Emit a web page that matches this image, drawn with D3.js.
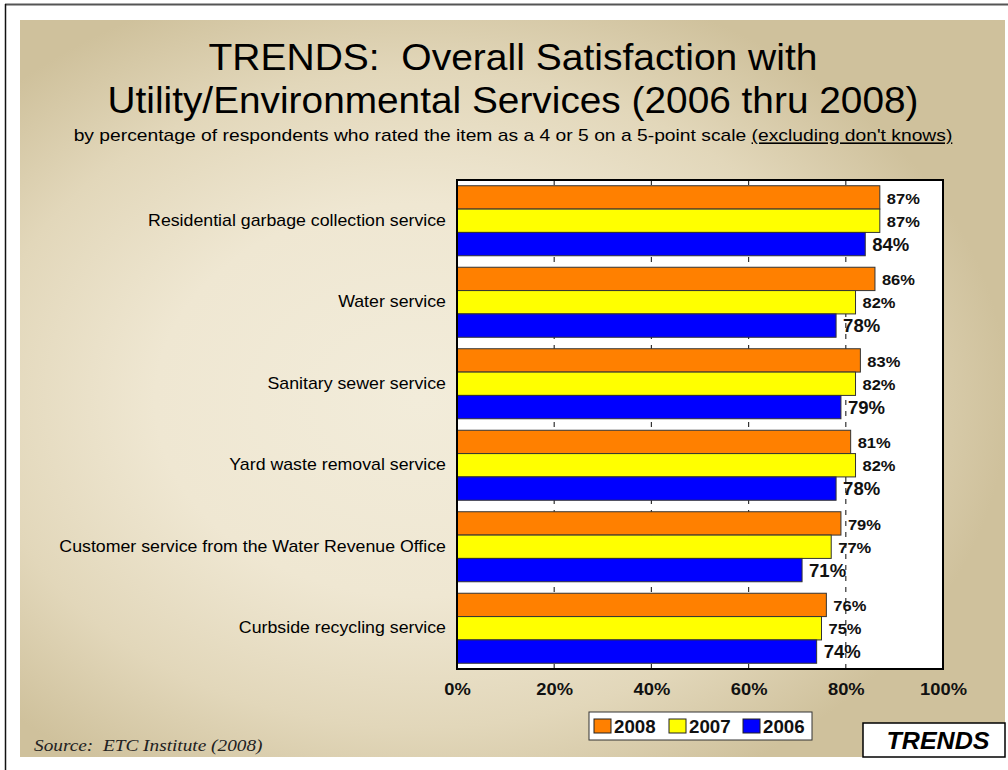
<!DOCTYPE html>
<html>
<head>
<meta charset="utf-8">
<script src="https://cdn.jsdelivr.net/npm/d3@7"></script>
<style>
  html, body { margin: 0; padding: 0; background: #ffffff; }
  svg { display: block; }
  text { white-space: pre; }
</style>
</head>
<body>
<svg id="chart" width="1008" height="770"></svg>
<script>
// Services rated, top to bottom
const categories = [
  "Residential garbage collection service",
  "Water service",
  "Sanitary sewer service",
  "Yard waste removal service",
  "Customer service from the Water Revenue Office",
  "Curbside recycling service"
];
// Survey years, in the order the bars are stacked inside each group
const years = ["2008", "2007", "2006"];
// Percent satisfied per year
const values2008 = [87, 86, 83, 81, 79, 76];
const values2007 = [87, 82, 82, 82, 77, 75];
const values2006 = [84, 78, 79, 78, 71, 74];
const tickValues = [0, 20, 40, 60, 80, 100];
const tickLabels = ["0%", "20%", "40%", "60%", "80%", "100%"];
const gridValues = [20, 40, 60, 80];

const seriesByYear = { "2008": values2008, "2007": values2007, "2006": values2006 };
const colors = { "2008": "#FF8000", "2007": "#FFFF00", "2006": "#0000FF" };
const labelSize = { "2008": 15, "2007": 15, "2006": 17.5 };
const labelWiden = { "2008": 1.1, "2007": 1.1, "2006": 1.06 };

const sans = "'Liberation Sans', Arial, sans-serif";
const serif = "'Liberation Serif', 'Times New Roman', serif";

// Slide type is set slightly wide: stretch text horizontally about its anchor point
function widen(sel, sx) {
  sel.each(function (d, i) {
    const t = d3.select(this);
    const k = typeof sx === "function" ? sx(d, i) : sx;
    const ax = +t.attr("x") || 0, ay = +t.attr("y") || 0;
    t.attr("transform", `translate(${ax},${ay}) scale(${k},1) translate(${-ax},${-ay})`);
  });
}

const svg = d3.select("#chart");
const defs = svg.append("defs");

// Tan backdrop, lighter toward the middle
const grad = defs.append("radialGradient")
  .attr("id", "bg")
  .attr("gradientUnits", "userSpaceOnUse")
  .attr("cx", 420).attr("cy", 400).attr("r", 560)
  .attr("gradientTransform", "translate(420,400) scale(1.05,0.78) translate(-420,-400)");
grad.append("stop").attr("offset", "0%").attr("stop-color", "#f2ecda");
grad.append("stop").attr("offset", "45%").attr("stop-color", "#efe7d2");
grad.append("stop").attr("offset", "75%").attr("stop-color", "#e2d7ba");
grad.append("stop").attr("offset", "100%").attr("stop-color", "#cfc19c");

// Frame lines
svg.append("line").attr("x1", 5).attr("x2", 1008).attr("y1", 4.5).attr("y2", 4.5)
  .attr("stroke", "#555").attr("stroke-width", 2);
svg.append("line").attr("x1", 5.5).attr("x2", 5.5).attr("y1", 4).attr("y2", 770)
  .attr("stroke", "#111").attr("stroke-width", 1.5);

svg.append("rect").attr("x", 20).attr("y", 20).attr("width", 985).attr("height", 737)
  .attr("fill", "url(#bg)");

// Titles
svg.append("text").attr("x", 513).attr("y", 70).attr("text-anchor", "middle")
  .attr("font-family", sans).attr("font-size", 37.5).attr("fill", "#000")
  .text("TRENDS:  Overall Satisfaction with")
  .call(widen, 1.04);
svg.append("text").attr("x", 513).attr("y", 113).attr("text-anchor", "middle")
  .attr("font-family", sans).attr("font-size", 37.5).attr("fill", "#000")
  .text("Utility/Environmental Services (2006 thru 2008)")
  .call(widen, 1.035);

const sub = svg.append("text").attr("x", 513).attr("y", 141.5).attr("text-anchor", "middle")
  .attr("font-family", sans).attr("font-size", 16).attr("fill", "#000");
sub.append("tspan").text("by percentage of respondents who rated the item as a 4 or 5 on a 5-point scale ");
sub.append("tspan").attr("text-decoration", "underline").text("(excluding don't knows)");
sub.call(widen, 1.205);

// Plot area
const plot = { left: 457, right: 943, top: 180, bottom: 669 };

const x = d3.scaleLinear().domain([0, 100]).range([plot.left, plot.right]);
const y = d3.scaleBand().domain(categories).range([plot.top, plot.bottom])
  .paddingInner(0.141).paddingOuter(0.0705);
const yInner = d3.scaleBand().domain(years).range([0, y.bandwidth()]);

svg.append("rect").attr("x", plot.left).attr("y", plot.top)
  .attr("width", plot.right - plot.left).attr("height", plot.bottom - plot.top)
  .attr("fill", "#ffffff");

// Dashed vertical gridlines
svg.append("g").selectAll("line").data(gridValues).join("line")
  .attr("x1", d => x(d)).attr("x2", d => x(d))
  .attr("y1", plot.top).attr("y2", plot.bottom)
  .attr("stroke", "#333").attr("stroke-width", 1.2)
  .attr("stroke-dasharray", "5,6");

// Bars
const groups = svg.append("g").selectAll("g").data(categories).join("g")
  .attr("transform", d => `translate(0,${y(d)})`);

groups.selectAll("rect").data((c, i) => years.map(yr => ({ yr, v: seriesByYear[yr][i] })))
  .join("rect")
  .attr("x", x(0))
  .attr("y", d => yInner(d.yr))
  .attr("width", d => x(d.v) - x(0))
  .attr("height", yInner.bandwidth())
  .attr("fill", d => colors[d.yr])
  .attr("stroke", "#333").attr("stroke-width", 1);

// Value labels
groups.selectAll("text").data((c, i) => years.map(yr => ({ yr, v: seriesByYear[yr][i] })))
  .join("text")
  .attr("x", d => x(d.v) + 7)
  .attr("y", d => yInner(d.yr) + yInner.bandwidth() / 2 + 1)
  .attr("dominant-baseline", "central")
  .attr("font-family", sans).attr("font-weight", "bold")
  .attr("font-size", d => labelSize[d.yr]).attr("fill", "#111")
  .text(d => d.v + "%")
  .call(widen, d => labelWiden[d.yr]);

// Plot border
svg.append("rect").attr("x", plot.left).attr("y", plot.top)
  .attr("width", plot.right - plot.left).attr("height", plot.bottom - plot.top)
  .attr("fill", "none").attr("stroke", "#000").attr("stroke-width", 2);

// Category labels
svg.append("g").selectAll("text").data(categories).join("text")
  .attr("x", plot.left - 11)
  .attr("y", d => y(d) + yInner("2007") + yInner.bandwidth() / 2)
  .attr("dominant-baseline", "central").attr("text-anchor", "end")
  .attr("font-family", sans).attr("font-size", 16).attr("fill", "#000")
  .text(d => d)
  .call(widen, 1.11);

// Value axis labels
const xAxis = d3.axisBottom(x).tickValues(tickValues)
  .tickFormat((d, i) => tickLabels[i]).tickSize(0).tickPadding(14);
const axisG = svg.append("g").attr("transform", `translate(0,${plot.bottom})`).call(xAxis);
axisG.select(".domain").remove();
axisG.selectAll("text").attr("font-family", sans).attr("font-weight", "bold")
  .attr("font-size", 17).attr("fill", "#111")
  .call(widen, 1.08);

// Legend
const legend = svg.append("g");
legend.append("rect").attr("x", 589).attr("y", 712).attr("width", 223).attr("height", 28)
  .attr("fill", "#fff").attr("stroke", "#333").attr("stroke-width", 1);
const legendX = { "2008": 594, "2007": 669, "2006": 743 };
years.forEach(yr => {
  legend.append("rect").attr("x", legendX[yr]).attr("y", 719).attr("width", 17).attr("height", 14)
    .attr("fill", colors[yr]).attr("stroke", "#222").attr("stroke-width", 1);
  legend.append("text").attr("x", legendX[yr] + 20).attr("y", 733)
    .attr("font-family", sans).attr("font-weight", "bold").attr("font-size", 17.5)
    .attr("fill", "#111").text(yr)
    .call(widen, 1.07);
});

// Source note
svg.append("text").attr("x", 34).attr("y", 751)
  .attr("font-family", serif)
  .attr("font-style", "italic").attr("font-size", 17).attr("fill", "#222")
  .text("Source:  ETC Institute (2008)")
  .call(widen, 1.135);

// Section tag
svg.append("rect").attr("x", 863).attr("y", 723).attr("width", 142).attr("height", 34)
  .attr("fill", "#fff").attr("stroke", "#000").attr("stroke-width", 1.5);
svg.append("text").attr("x", 938).attr("y", 749).attr("text-anchor", "middle")
  .attr("font-family", sans).attr("font-weight", "bold").attr("font-style", "italic")
  .attr("font-size", 23).attr("fill", "#000").text("TRENDS")
  .call(widen, 1.09);
</script>
</body>
</html>
